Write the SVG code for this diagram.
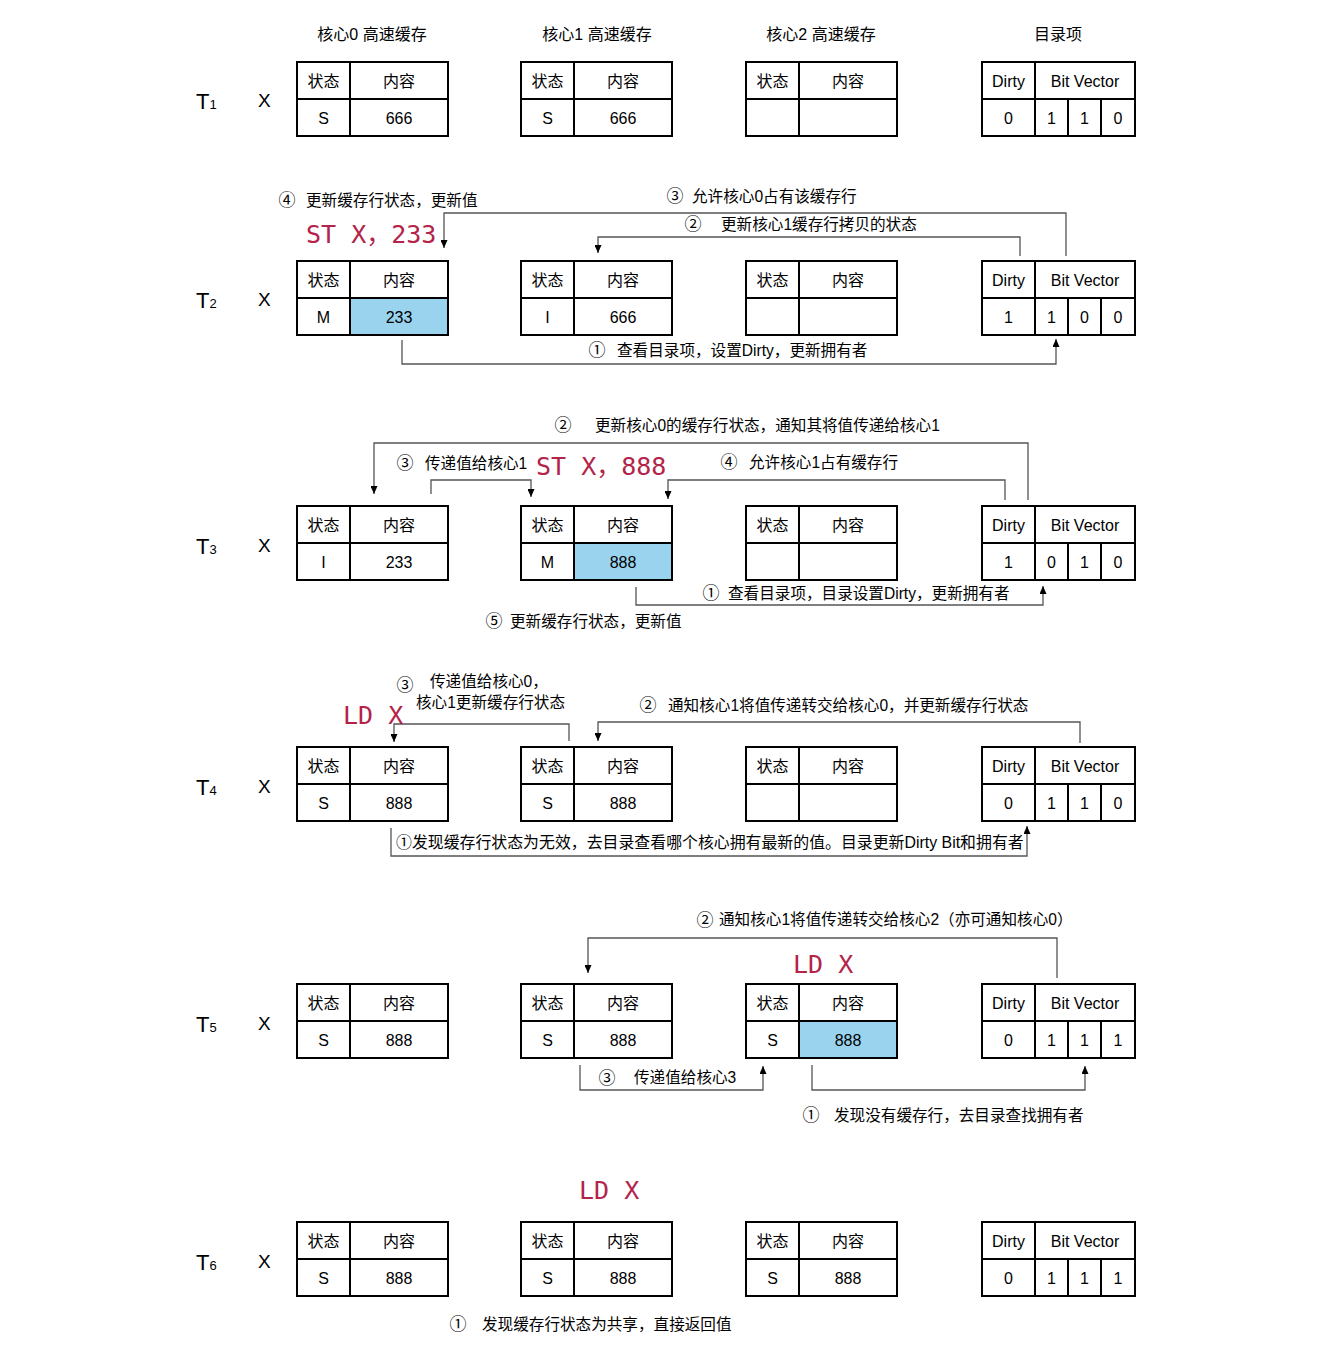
<svg xmlns="http://www.w3.org/2000/svg" width="1328" height="1352" viewBox="0 0 1328 1352">
<style>
  text { font-family: "Liberation Sans", "Noto Sans CJK SC", sans-serif; font-size: 16px; fill: #000; }
  .m { text-anchor: middle; }
  .c { fill: #fff; stroke: #000; stroke-width: 2; }
  .hl { fill: #99d3ee; }
  .tl { font-size: 22px; }
  .sub { font-size: 13px; }
  .xl { font-size: 19px; }
  #annotations text { font-size: 15.6px; }
  #annotations text.n { font-size: 17px; }
  #annotations text.long { font-size: 15.9px; }
  #annotations text.red { font-family: "DejaVu Sans Mono", "Liberation Mono", "Noto Sans CJK SC", monospace; font-size: 25px; fill: #b3234a; }
  .conn { fill: none; stroke: #555; stroke-width: 1.3; marker-end: url(#arr); }
</style>
<defs>
  <marker id="arr" markerUnits="userSpaceOnUse" markerWidth="8" markerHeight="7" refX="8" refY="3.5" orient="auto">
    <path d="M0,0 L8,3.5 L0,7 z" fill="#000"/>
  </marker>
  <g id="cache">
    <rect class="c" x="0" y="0" width="53" height="37"/>
    <rect class="c" x="53" y="0" width="98" height="37"/>
    <rect class="c" x="0" y="37" width="53" height="37"/>
    <rect class="c" x="53" y="37" width="98" height="37"/>
    <text class="m" x="26.5" y="24.5">状态</text>
    <text class="m" x="102" y="24.5">内容</text>
  </g>
  <g id="dir">
    <rect class="c" x="0" y="0" width="53" height="37"/>
    <rect class="c" x="53" y="0" width="100" height="37"/>
    <rect class="c" x="0" y="37" width="53" height="37"/>
    <rect class="c" x="53" y="37" width="33" height="37"/>
    <rect class="c" x="86" y="37" width="33" height="37"/>
    <rect class="c" x="119" y="37" width="34" height="37"/>
    <text class="m" x="26.5" y="24.5">Dirty</text>
    <text class="m" x="103" y="24.5">Bit Vector</text>
  </g>
</defs>
<rect x="0" y="0" width="1328" height="1352" fill="#fff"/>

<!-- headers -->
<g id="headers">
  <text class="m" x="372" y="40">核心0 高速缓存</text>
  <text class="m" x="597" y="40">核心1 高速缓存</text>
  <text class="m" x="821" y="40">核心2 高速缓存</text>
  <text class="m" x="1058" y="40">目录项</text>
</g>

<!-- row labels -->
<g id="labels">
  <text class="tl" x="196" y="109">T<tspan class="sub">1</tspan></text>
  <text class="xl" x="258" y="107">X</text>
  <text class="tl" x="196" y="308">T<tspan class="sub">2</tspan></text>
  <text class="xl" x="258" y="306">X</text>
  <text class="tl" x="196" y="553.5">T<tspan class="sub">3</tspan></text>
  <text class="xl" x="258" y="551.5">X</text>
  <text class="tl" x="196" y="794.5">T<tspan class="sub">4</tspan></text>
  <text class="xl" x="258" y="792.5">X</text>
  <text class="tl" x="196" y="1031.5">T<tspan class="sub">5</tspan></text>
  <text class="xl" x="258" y="1029.5">X</text>
  <text class="tl" x="196" y="1269.5">T<tspan class="sub">6</tspan></text>
  <text class="xl" x="258" y="1267.5">X</text>
</g>

<!-- T1 -->
<g id="t1-core0" transform="translate(297,62)"><use href="#cache"/><text class="m" x="26.5" y="61.5">S</text><text class="m" x="102" y="61.5">666</text></g>
<g id="t1-core1" transform="translate(521,62)"><use href="#cache"/><text class="m" x="26.5" y="61.5">S</text><text class="m" x="102" y="61.5">666</text></g>
<g id="t1-core2" transform="translate(746,62)"><use href="#cache"/></g>
<g id="t1-dir" transform="translate(982,62)"><use href="#dir"/><text class="m" x="26.5" y="61.5">0</text><text class="m" x="69.5" y="61.5">1</text><text class="m" x="102.5" y="61.5">1</text><text class="m" x="136" y="61.5">0</text></g>

<!-- T2 -->
<g id="t2-core0" transform="translate(297,261)"><use href="#cache"/><rect class="c hl" x="53" y="37" width="98" height="37"/><text class="m" x="26.5" y="61.5">M</text><text class="m" x="102" y="61.5">233</text></g>
<g id="t2-core1" transform="translate(521,261)"><use href="#cache"/><text class="m" x="26.5" y="61.5">I</text><text class="m" x="102" y="61.5">666</text></g>
<g id="t2-core2" transform="translate(746,261)"><use href="#cache"/></g>
<g id="t2-dir" transform="translate(982,261)"><use href="#dir"/><text class="m" x="26.5" y="61.5">1</text><text class="m" x="69.5" y="61.5">1</text><text class="m" x="102.5" y="61.5">0</text><text class="m" x="136" y="61.5">0</text></g>

<!-- T3 -->
<g id="t3-core0" transform="translate(297,506)"><use href="#cache"/><text class="m" x="26.5" y="61.5">I</text><text class="m" x="102" y="61.5">233</text></g>
<g id="t3-core1" transform="translate(521,506)"><use href="#cache"/><rect class="c hl" x="53" y="37" width="98" height="37"/><text class="m" x="26.5" y="61.5">M</text><text class="m" x="102" y="61.5">888</text></g>
<g id="t3-core2" transform="translate(746,506)"><use href="#cache"/></g>
<g id="t3-dir" transform="translate(982,506)"><use href="#dir"/><text class="m" x="26.5" y="61.5">1</text><text class="m" x="69.5" y="61.5">0</text><text class="m" x="102.5" y="61.5">1</text><text class="m" x="136" y="61.5">0</text></g>

<!-- T4 -->
<g id="t4-core0" transform="translate(297,747)"><use href="#cache"/><text class="m" x="26.5" y="61.5">S</text><text class="m" x="102" y="61.5">888</text></g>
<g id="t4-core1" transform="translate(521,747)"><use href="#cache"/><text class="m" x="26.5" y="61.5">S</text><text class="m" x="102" y="61.5">888</text></g>
<g id="t4-core2" transform="translate(746,747)"><use href="#cache"/></g>
<g id="t4-dir" transform="translate(982,747)"><use href="#dir"/><text class="m" x="26.5" y="61.5">0</text><text class="m" x="69.5" y="61.5">1</text><text class="m" x="102.5" y="61.5">1</text><text class="m" x="136" y="61.5">0</text></g>

<!-- T5 -->
<g id="t5-core0" transform="translate(297,984)"><use href="#cache"/><text class="m" x="26.5" y="61.5">S</text><text class="m" x="102" y="61.5">888</text></g>
<g id="t5-core1" transform="translate(521,984)"><use href="#cache"/><text class="m" x="26.5" y="61.5">S</text><text class="m" x="102" y="61.5">888</text></g>
<g id="t5-core2" transform="translate(746,984)"><use href="#cache"/><rect class="c hl" x="53" y="37" width="98" height="37"/><text class="m" x="26.5" y="61.5">S</text><text class="m" x="102" y="61.5">888</text></g>
<g id="t5-dir" transform="translate(982,984)"><use href="#dir"/><text class="m" x="26.5" y="61.5">0</text><text class="m" x="69.5" y="61.5">1</text><text class="m" x="102.5" y="61.5">1</text><text class="m" x="136" y="61.5">1</text></g>

<!-- T6 -->
<g id="t6-core0" transform="translate(297,1222)"><use href="#cache"/><text class="m" x="26.5" y="61.5">S</text><text class="m" x="102" y="61.5">888</text></g>
<g id="t6-core1" transform="translate(521,1222)"><use href="#cache"/><text class="m" x="26.5" y="61.5">S</text><text class="m" x="102" y="61.5">888</text></g>
<g id="t6-core2" transform="translate(746,1222)"><use href="#cache"/><text class="m" x="26.5" y="61.5">S</text><text class="m" x="102" y="61.5">888</text></g>
<g id="t6-dir" transform="translate(982,1222)"><use href="#dir"/><text class="m" x="26.5" y="61.5">0</text><text class="m" x="69.5" y="61.5">1</text><text class="m" x="102.5" y="61.5">1</text><text class="m" x="136" y="61.5">1</text></g>

<!-- connectors -->
<g id="connectors">
  <path class="conn" d="M1066,256 V213 H444 V248"/>
  <path class="conn" d="M1020,256 V237 H598 V253"/>
  <path class="conn" d="M402,340 V364 H1056 V339"/>

  <path class="conn" d="M1028,500 V443 H374 V494"/>
  <path class="conn" d="M431,494 V480 H531 V497"/>
  <path class="conn" d="M1005,500 V480 H668 V499"/>
  <path class="conn" d="M636,587 V605 H1043 V586"/>

  <path class="conn" d="M569,741 V724 H394 V742"/>
  <path class="conn" d="M1080,743 V722 H598 V741"/>
  <path class="conn" d="M391,828 V856 H1027 V826"/>

  <path class="conn" d="M1057,978 V938 H588 V973"/>
  <path class="conn" d="M580,1065 V1090 H763 V1066"/>
  <path class="conn" d="M812,1065 V1090 H1085 V1066"/>
</g>

<!-- annotations -->
<g id="annotations">
  <text class="m n" x="287" y="206">④</text><text x="306" y="206">更新缓存行状态，更新值</text>
  <text class="red" x="306" y="243">ST X，233</text>
  <text class="m n" x="675" y="202">③</text><text x="692" y="202">允许核心0占有该缓存行</text>
  <text class="m n" x="693" y="230">②</text><text x="721" y="230">更新核心1缓存行拷贝的状态</text>
  <text class="m n" x="597" y="356">①</text><text x="617" y="356">查看目录项，设置Dirty，更新拥有者</text>

  <text class="m n" x="563" y="431">②</text><text x="595" y="431">更新核心0的缓存行状态，通知其将值传递给核心1</text>
  <text class="m n" x="405" y="469">③</text><text x="425" y="469">传递值给核心1</text>
  <text class="red" x="536" y="475">ST X，888</text>
  <text class="m n" x="729" y="468">④</text><text x="749" y="468">允许核心1占有缓存行</text>
  <text class="m n" x="711" y="599">①</text><text x="728" y="599">查看目录项，目录设置Dirty，更新拥有者</text>
  <text class="m n" x="494" y="627">⑤</text><text x="510" y="627">更新缓存行状态，更新值</text>

  <text class="m n" x="405" y="691">③</text><text x="430" y="687">传递值给核心0，</text>
  <text x="416" y="708">核心1更新缓存行状态</text>
  <text class="red" x="343" y="724">LD X</text>
  <text class="m n" x="648" y="711">②</text><text x="668" y="711">通知核心1将值传递转交给核心0，并更新缓存行状态</text>
  <text class="long" x="396" y="848">①发现缓存行状态为无效，去目录查看哪个核心拥有最新的值。目录更新Dirty Bit和拥有者</text>

  <text class="m n" x="705" y="926">②</text><text x="719" y="925">通知核心1将值传递转交给核心2（亦可通知核心0）</text>
  <text class="red" x="793" y="973">LD X</text>
  <text class="m n" x="607" y="1084">③</text><text x="634" y="1083">传递值给核心3</text>
  <text class="m n" x="811" y="1121">①</text><text x="834" y="1121">发现没有缓存行，去目录查找拥有者</text>

  <text class="red" x="579" y="1199">LD X</text>
  <text class="m n" x="458" y="1330">①</text><text x="482" y="1330">发现缓存行状态为共享，直接返回值</text>
</g>
</svg>
